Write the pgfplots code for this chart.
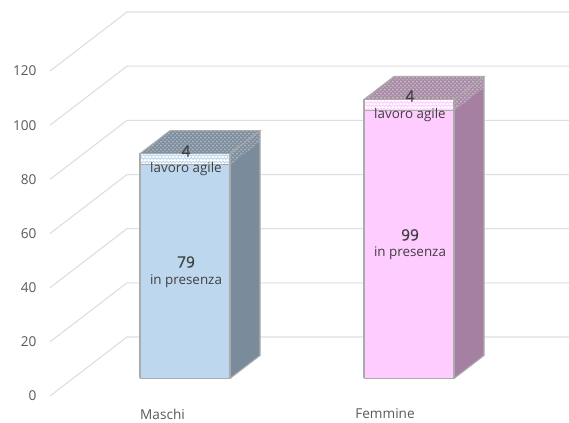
\documentclass[border=0pt]{standalone}
\usepackage{fontspec}
\setmainfont{Open Sans}
\newfontfamily\numfont{Open Sans}[FakeBold=0.6]
\usepackage{pgfplots}
\pgfplotsset{compat=1.18}
\usetikzlibrary{patterns}

\definecolor{gridc}{HTML}{DEDEDE}
\definecolor{edgec}{HTML}{ABABAB}
\definecolor{tickc}{HTML}{595959}
\definecolor{textc}{HTML}{404040}
\definecolor{mfront}{HTML}{BDD7EE}
\definecolor{mside}{HTML}{7A8C9C}
\definecolor{mtop}{HTML}{7F8F9F}
\definecolor{mdots}{HTML}{AEB8C2}
\definecolor{ffront}{HTML}{FFCCFF}
\definecolor{fside}{HTML}{A680A3}
\definecolor{ftop}{HTML}{A98DA7}
\definecolor{fdots}{HTML}{CDB9CB}

% small texture used on the upper segment of each column
\pgfdeclarepatternformonly{mottle}{\pgfqpoint{-1pt}{-1pt}}{\pgfqpoint{5pt}{5pt}}{\pgfqpoint{4pt}{4pt}}{
  \pgfpathcircle{\pgfqpoint{1pt}{1pt}}{1.05pt}
  \pgfpathcircle{\pgfqpoint{3pt}{3pt}}{0.8pt}
  \pgfusepath{fill}
}
% rounded white cells on the front of the upper segment
\pgfdeclarepatternformonly{scallop}{\pgfqpoint{-2pt}{-2pt}}{\pgfqpoint{5pt}{8pt}}{\pgfqpoint{3.3pt}{6.6pt}}{
  \pgfpathcircle{\pgfqpoint{1.65pt}{1.65pt}}{1.5pt}
  \pgfpathcircle{\pgfqpoint{0pt}{4.95pt}}{1.5pt}
  \pgfpathcircle{\pgfqpoint{3.3pt}{4.95pt}}{1.5pt}
  \pgfusepath{fill}
}

% oblique projection: x, value v, depth d
\pgfplotsset{
  /pgfplots/table/oblique/.style={
    x expr=\thisrow{x}+77*\thisrow{d},
    y expr=\thisrow{v}+21.8*\thisrow{d},
    row sep=\\
  }
}

% #1,#2 column left/right, #3 lower value, #4 lower+upper, #5 colour prefix
\newcommand{\stackedcolumn}[5]{
  % side, lower segment
  \addplot[fill=#5side,draw=none] table[oblique]{
    x v d\\ #2 0 .297\\ #2 0 .687\\ #2 #3 .687\\ #2 #3 .297\\ #2 0 .297\\};
  % side, upper segment
  \addplot[fill=#5top,draw=none] table[oblique]{
    x v d\\ #2 #3 .297\\ #2 #3 .687\\ #2 #4 .687\\ #2 #4 .297\\ #2 #3 .297\\};
  \addplot[pattern=mottle,pattern color=#5dots,draw=none] table[oblique]{
    x v d\\ #2 #3 .297\\ #2 #3 .687\\ #2 #4 .687\\ #2 #4 .297\\ #2 #3 .297\\};
  % top face
  \addplot[fill=#5top,draw=none] table[oblique]{
    x v d\\ #1 #4 .297\\ #2 #4 .297\\ #2 #4 .687\\ #1 #4 .687\\ #1 #4 .297\\};
  \addplot[pattern=mottle,pattern color=#5dots,draw=edgec,line width=1.1pt] table[oblique]{
    x v d\\ #1 #4 .297\\ #2 #4 .297\\ #2 #4 .687\\ #1 #4 .687\\ #1 #4 .297\\};
  % outer edge of the side face
  \addplot[draw=edgec,line width=1.1pt] table[oblique]{
    x v d\\ #2 #4 .687\\ #2 0 .687\\ #2 0 .297\\};
  % front, lower segment
  \addplot[fill=#5front,draw=edgec,line width=1.1pt] table[oblique]{
    x v d\\ #1 0 .297\\ #2 0 .297\\ #2 #3 .297\\ #1 #3 .297\\ #1 0 .297\\};
  % front, upper segment
  \addplot[fill=#5front,draw=none] table[oblique]{
    x v d\\ #1 #3 .297\\ #2 #3 .297\\ #2 #4 .297\\ #1 #4 .297\\ #1 #3 .297\\};
  \addplot[pattern=scallop,pattern color=white,draw=edgec,line width=1.1pt] table[oblique]{
    x v d\\ #1 #3 .297\\ #2 #3 .297\\ #2 #4 .297\\ #1 #4 .297\\ #1 #3 .297\\};
}

\begin{document}
\begin{tikzpicture}
\begin{axis}[
  scale only axis,
  width=569pt,height=421pt,
  xmin=0,xmax=569,
  ymin=-9.23,ymax=146.23,
  clip=true,
  axis line style={draw=none},
  tick style={draw=none},
  xtick={162.5,385},
  xticklabels={Maschi,Femmine},
  ytick={0,20,40,60,80,100,120},
  yticklabel style={anchor=east,xshift=40pt,text=tickc,font=\fontsize{13.6}{15}\selectfont},
  xticklabel style={anchor=center,yshift=7pt,text=tickc,font=\fontsize{13.6}{15}\selectfont},
  /pgf/number format/assume math mode=true,
]
% back walls: one line per tick value
\pgfplotsinvokeforeach{0,20,40,60,80,100,120}{
  \addplot[draw=gridc,line width=1.1pt] table[oblique]{
    x v d\\ 50 #1 0\\ 50 #1 1\\ 492 #1 1\\};
}

\stackedcolumn{117.1}{207.1}{79}{83}{m}
\stackedcolumn{341.1}{431.1}{99}{103}{f}

\tikzset{valtext/.style={text=textc,font=\fontsize{15.5}{17}\numfont},
         captext/.style={text=textc,font=\fontsize{13.4}{15}\selectfont}}
\node[valtext] at (axis cs:186,49.5) {79};
\node[captext] at (axis cs:186,42.5) {in presenza};
\node[valtext] at (axis cs:186,90.5) {4};
\node[captext] at (axis cs:186,83.8) {lavoro agile};
\node[valtext] at (axis cs:410,59.5) {99};
\node[captext] at (axis cs:410,52.8) {in presenza};
\node[valtext] at (axis cs:410,110.8) {4};
\node[captext] at (axis cs:410,103.8) {lavoro agile};
\end{axis}
\end{tikzpicture}
\end{document}
